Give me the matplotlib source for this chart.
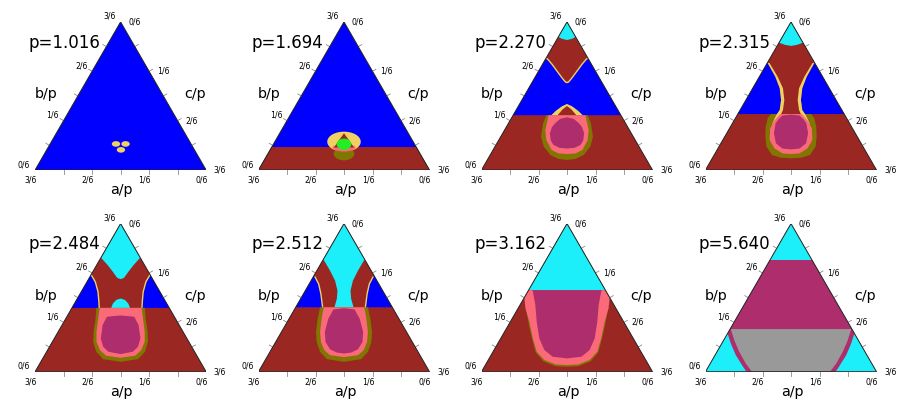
import numpy as np
import matplotlib
matplotlib.use("Agg")
import matplotlib.pyplot as plt
from matplotlib.patches import Polygon, Ellipse

H = np.sqrt(3) / 2

# ---------------- data ----------------
P_VALUES = ["1.016", "1.694", "2.270", "2.315", "2.484", "2.512", "3.162", "5.640"]
BOTTOM_TICKS = ["3/6", "2/6", "1/6", "0/6"]
LEFT_TICKS = ["0/6", "1/6", "2/6", "3/6"]
RIGHT_TICKS = ["0/6", "1/6", "2/6", "3/6"]
AXIS_TITLES = ["a/p", "b/p", "c/p"]

BLUE = "#0000FF"
BROWN = "#9B2722"
CYAN = "#1CEFFA"
MAGENTA = "#AE2D6C"
PINK = "#FA6A78"
OLIVE = "#807600"
YELLOW = "#F0D060"
GREEN = "#22EE22"
GRAY = "#999999"

# boundary profiles: (half-width from centre, height fraction)
P1_DOT_U = [0.473, 0.529, 0.502]
P1_DOT_V = [0.176, 0.176, 0.136]

P2_LINE = 0.152
P2_YELLOW = (0.191, 0.196, 0.136)
P2_OLIVE = (0.110, 0.120, 0.090)
P2_PINK = (0.150, 0.136, 0.050)
P2_NOTCH = [(0, 0.248), (0.03, 0.20), (0.058, 0.152), (0, 0.152)]
P2_GREEN = (0.174, 0.086, 0.076)

P3_LINE = 0.37
P3_VCURVE = [(0, 0.59), (0.0097, 0.595), (0.029, 0.622), (0.058, 0.667), (0.087, 0.713), (0.112, 0.747), (0.14, 0.772)]
P3_CYAN = [(0, 0.878), (0.03, 0.886), (0.06, 0.905), (0.15, 0.95), (0.15, 1.1), (0, 1.1)]
P3_BUMP_Y = [(0, 0.446), (0.03, 0.43), (0.065, 0.40), (0.092, 0.37), (0.092, 0.33), (0, 0.33)]
P3_BUMP_B = [(0, 0.432), (0.025, 0.41), (0.055, 0.37), (0.055, 0.33), (0, 0.33)]
P3_OLIVE = [(0, 0.37), (0.121, 0.37), (0.14, 0.315), (0.152, 0.225), (0.136, 0.158), (0.097, 0.101), (0.05, 0.075), (0, 0.068)]
P3_PINK = [(0, 0.37), (0.107, 0.37), (0.127, 0.27), (0.121, 0.203), (0.09, 0.135), (0.05, 0.112), (0, 0.108)]
P3_MAG = [(0, 0.356), (0.04, 0.345), (0.07, 0.315), (0.088, 0.29), (0.1, 0.248), (0.095, 0.2), (0.08, 0.17), (0.045, 0.15), (0, 0.145)]

P4_LINE = 0.378
P4_CURVE = [(0.082, 0.378), (0.066, 0.405), (0.058, 0.473), (0.066, 0.552), (0.092, 0.63), (0.136, 0.721)]
P4_YEL_OUT = [(0.11, 0.31), (0.095, 0.35), (0.082, 0.378), (0.066, 0.405), (0.058, 0.473), (0.066, 0.552), (0.092, 0.63), (0.136, 0.721), (0.15, 0.73)]
P4_YEL_IN = [(0.125, 0.721), (0.078, 0.63), (0.047, 0.552), (0.039, 0.473), (0.047, 0.405), (0.058, 0.378), (0.075, 0.35), (0.1, 0.31)]
P4_CYAN = [(0, 0.838), (0.035, 0.845), (0.07, 0.86), (0.15, 0.93), (0.15, 1.1), (0, 1.1)]
P4_OLIVE = [(0, 0.378), (0.117, 0.378), (0.136, 0.351), (0.148, 0.29), (0.15, 0.225), (0.144, 0.158), (0.111, 0.101), (0.06, 0.083), (0, 0.079)]
P4_PINK = [(0, 0.378), (0.064, 0.378), (0.1, 0.33), (0.122, 0.28), (0.125, 0.203), (0.097, 0.146), (0.05, 0.112), (0, 0.108)]
P4_MAG = [(0, 0.374), (0.05, 0.368), (0.075, 0.34), (0.09, 0.315), (0.1, 0.248), (0.088, 0.18), (0.05, 0.145), (0, 0.139)]

P5_LINE = 0.431
P5_CURVE = [(0.125, 0.431), (0.127, 0.472), (0.132, 0.539), (0.148, 0.607), (0.173, 0.656)]
P5_CYAN = [(0, 0.625), (0.02, 0.634), (0.045, 0.674), (0.075, 0.719), (0.11, 0.764), (0.2, 0.85), (0.2, 1.1), (0, 1.1)]
P5_BUMP = [(0, 0.494), (0.025, 0.485), (0.045, 0.46), (0.055, 0.431), (0.055, 0.40), (0, 0.40)]
P5_OLIVE = [(0, 0.431), (0.142, 0.431), (0.146, 0.36), (0.158, 0.27), (0.16, 0.202), (0.143, 0.135), (0.102, 0.085), (0, 0.067)]
P5_PINK = [(0, 0.431), (0.123, 0.431), (0.131, 0.36), (0.141, 0.27), (0.141, 0.202), (0.121, 0.146), (0.085, 0.108), (0, 0.094)]
P5_MAG = [(0, 0.38), (0.08, 0.371), (0.105, 0.315), (0.116, 0.225), (0.102, 0.169), (0.072, 0.135), (0, 0.119)]

P6_LINE = 0.435
P6_CURVE = [(0.125, 0.435), (0.129, 0.469), (0.135, 0.525), (0.148, 0.592), (0.171, 0.643)]
P6_CYAN = [(0, 0.435), (0.056, 0.435), (0.042, 0.491), (0.038, 0.547), (0.052, 0.614), (0.081, 0.681), (0.115, 0.748), (0.25, 0.9), (0.25, 1.1), (0, 1.1)]
P6_OLIVE = [(0, 0.435), (0.14, 0.435), (0.154, 0.357), (0.164, 0.268), (0.16, 0.201), (0.14, 0.134), (0.10, 0.085), (0, 0.067)]
P6_PINK = [(0, 0.435), (0.119, 0.435), (0.131, 0.357), (0.14, 0.268), (0.135, 0.201), (0.115, 0.145), (0.082, 0.112), (0, 0.098)]
P6_MAG = [(0, 0.429), (0.062, 0.42), (0.092, 0.357), (0.112, 0.268), (0.108, 0.201), (0.082, 0.152), (0.042, 0.129), (0, 0.123)]

P7_LINE = 0.551
P7_OLIVE = [(0, 0.5), (0.236, 0.40), (0.222, 0.31), (0.205, 0.225), (0.183, 0.13), (0.138, 0.07), (0.068, 0.038), (0, 0.033)]
P7_PINK = [(0, 0.551), (0.26, 0.551), (0.249, 0.494), (0.243, 0.427), (0.22, 0.337), (0.2, 0.225), (0.177, 0.135), (0.132, 0.079), (0.065, 0.049), (0, 0.045)]
P7_MAG = [(0, 0.551), (0.205, 0.551), (0.2, 0.544), (0.185, 0.449), (0.177, 0.337), (0.162, 0.225), (0.132, 0.146), (0.084, 0.101), (0, 0.09)]

P8_BAND = (0.288, 0.753)
P8_MAG_U = [(0, 0.3), (0.4, 0.3), (0.371, 0.258), (0.352, 0.191), (0.323, 0.112), (0.284, 0.04), (0.255, -0.01), (0, -0.01)]
P8_GRAY = [(0, 0.288), (0.352, 0.288), (0.332, 0.213), (0.303, 0.135), (0.265, 0.056), (0.222, -0.01), (0, -0.01)]


# ---------------- helpers ----------------
def sym(profile):
    right = [(0.5 + w, v) for w, v in profile]
    left = [(0.5 - w, v) for w, v in reversed(profile)]
    return right + left


def side(profile, s):
    return [(0.5 + s * w, v) for w, v in profile]


def band(v0, v1):
    return [(-0.2, v0), (1.2, v0), (1.2, v1), (-0.2, v1)]


def open_sym(profile):
    left = [(0.5 - w, v) for w, v in reversed(profile)]
    right = [(0.5 + w, v) for w, v in profile]
    return left + right


def blue_side(curve, line):
    return curve + [(0.45, 0.95), (0.7, line)]


PANELS = [
    (BLUE, [("ell", YELLOW, (u, v, 0.049, 0.038)) for u, v in zip(P1_DOT_U, P1_DOT_V)], []),
    (BLUE, [("poly", BROWN, band(-0.1, P2_LINE)),
            ("ell", YELLOW, (0.5,) + P2_YELLOW),
            ("ell", OLIVE, (0.5,) + P2_OLIVE),
            ("ell", PINK, (0.5,) + P2_PINK),
            ("poly", BROWN, sym(P2_NOTCH)),
            ("ell", GREEN, (0.5,) + P2_GREEN)], []),
    (BROWN, [("poly", BLUE, sym(P3_VCURVE + [(0.2, 0.82), (0.6, 0.82), (0.6, P3_LINE), (0, P3_LINE)])),
             ("poly", CYAN, sym(P3_CYAN)),
             ("poly", YELLOW, sym(P3_BUMP_Y)),
             ("poly", BROWN, sym(P3_BUMP_B)),
             ("poly", OLIVE, sym(P3_OLIVE)),
             ("poly", PINK, sym(P3_PINK)),
             ("poly", MAGENTA, sym(P3_MAG))],
     [open_sym(P3_VCURVE)]),
    (BROWN, [("poly", BLUE, side(blue_side(P4_CURVE, P4_LINE), 1)),
             ("poly", BLUE, side(blue_side(P4_CURVE, P4_LINE), -1)),
             ("poly", CYAN, sym(P4_CYAN)),
             ("poly", OLIVE, sym(P4_OLIVE)),
             ("poly", YELLOW, side(P4_YEL_OUT + P4_YEL_IN, 1)),
             ("poly", YELLOW, side(P4_YEL_OUT + P4_YEL_IN, -1)),
             ("poly", PINK, sym(P4_PINK)),
             ("poly", MAGENTA, sym(P4_MAG))],
     []),
    (BROWN, [("poly", BLUE, side(blue_side(P5_CURVE, P5_LINE), 1)),
             ("poly", BLUE, side(blue_side(P5_CURVE, P5_LINE), -1)),
             ("poly", CYAN, sym(P5_CYAN)),
             ("poly", CYAN, sym(P5_BUMP)),
             ("poly", OLIVE, sym(P5_OLIVE)),
             ("poly", PINK, sym(P5_PINK)),
             ("poly", MAGENTA, sym(P5_MAG))],
     [side(P5_CURVE, 1), side(P5_CURVE, -1)]),
    (BROWN, [("poly", BLUE, side(blue_side(P6_CURVE, P6_LINE), 1)),
             ("poly", BLUE, side(blue_side(P6_CURVE, P6_LINE), -1)),
             ("poly", CYAN, sym(P6_CYAN)),
             ("poly", OLIVE, sym(P6_OLIVE)),
             ("poly", PINK, sym(P6_PINK)),
             ("poly", MAGENTA, sym(P6_MAG))],
     [side(P6_CURVE, 1), side(P6_CURVE, -1)]),
    (BROWN, [("poly", CYAN, band(P7_LINE, 1.1)),
             ("poly", OLIVE, sym(P7_OLIVE)),
             ("poly", PINK, sym(P7_PINK)),
             ("poly", MAGENTA, sym(P7_MAG))], []),
    (CYAN, [("poly", MAGENTA, band(*P8_BAND)),
            ("poly", MAGENTA, sym(P8_MAG_U)),
            ("poly", GRAY, sym(P8_GRAY))], []),
]

# ---------------- figure ----------------
FIG_W, FIG_H = 915, 409
TRI_W = 171.0
TRI_H = TRI_W * H
CENTERS = [120.6, 344.0, 567.0, 791.0]
BASES = [170.0, 371.7]

fig = plt.figure(figsize=(FIG_W / 100, FIG_H / 100), dpi=100)
fig.patch.set_facecolor("white")


def to_xy(pts):
    return [(u, v * H) for u, v in pts]


for idx, (base_col, layers, ylines) in enumerate(PANELS):
    row, col = divmod(idx, 4)
    cx = CENTERS[col]
    by = BASES[row]
    ax = fig.add_axes([(cx - TRI_W / 2) / FIG_W, (FIG_H - by) / FIG_H, TRI_W / FIG_W, TRI_H / FIG_H])
    ax.set_xlim(0, 1)
    ax.set_ylim(0, H)
    ax.axis("off")

    tri = Polygon([(0, 0), (1, 0), (0.5, H)], closed=True, facecolor=base_col, edgecolor="none", zorder=1)
    ax.add_patch(tri)
    for kind, color, geo in layers:
        if kind == "poly":
            patch = Polygon(to_xy(geo), closed=True, facecolor=color, edgecolor="none", zorder=2)
        else:
            u, v, w, h = geo
            patch = Ellipse((u, v * H), w, h * H, facecolor=color, edgecolor="none", zorder=2)
        ax.add_patch(patch)
        patch.set_clip_path(tri)
    for path in ylines:
        xs = [u for u, v in path]
        ys = [v * H for u, v in path]
        ln, = ax.plot(xs, ys, color=YELLOW, lw=1.0, zorder=3, solid_capstyle="butt")
        ln.set_clip_path(tri)

    outline = Polygon([(0, 0), (1, 0), (0.5, H)], closed=True, facecolor="none", edgecolor="#222222", lw=0.7, zorder=4)
    ax.add_patch(outline)

    # ticks
    tl = 4.0 / TRI_W
    for k in range(1, 6):
        f = k / 6
        ax.plot([f, f], [0, -tl], color="#8a8a8a", lw=0.6, clip_on=False)
        lx, ly = f * 0.5, f * H
        ax.plot([lx, lx - tl * H], [ly, ly + tl * 0.5], color="#8a8a8a", lw=0.6, clip_on=False)
        rx, ry = 1 - f * 0.5, f * H
        ax.plot([rx, rx + tl * H], [ry, ry + tl * 0.5], color="#8a8a8a", lw=0.6, clip_on=False)

    tick_fs = 5.6
    for i, lab in enumerate(BOTTOM_TICKS):
        ax.annotate(lab, xy=(i / 3, 0), xytext=(-4.5, -10), textcoords="offset pixels",
                    ha="center", va="center", fontsize=tick_fs, annotation_clip=False)
    for i, lab in enumerate(LEFT_TICKS):
        v = i / 3
        ax.annotate(lab, xy=(v * 0.5, v * H), xytext=(-11, 5.5), textcoords="offset pixels",
                    ha="center", va="center", fontsize=tick_fs, annotation_clip=False)
    for i, lab in enumerate(RIGHT_TICKS):
        v = 1 - i / 3
        ax.annotate(lab, xy=(1 - v * 0.5, v * H), xytext=(14, 0), textcoords="offset pixels",
                    ha="center", va="center", fontsize=tick_fs, annotation_clip=False)

    ax.annotate(AXIS_TITLES[0], xy=(0.5, 0), xytext=(1, -20), textcoords="offset pixels",
                ha="center", va="center", fontsize=10.3, annotation_clip=False)
    ax.annotate(AXIS_TITLES[1], xy=(0.5, H), xytext=(-74.5, -72.5), textcoords="offset pixels",
                ha="center", va="center", fontsize=10.3, annotation_clip=False)
    ax.annotate(AXIS_TITLES[2], xy=(0.5, H), xytext=(74.5, -72.5), textcoords="offset pixels",
                ha="center", va="center", fontsize=10.3, annotation_clip=False)
    ax.annotate("p=" + P_VALUES[idx], xy=(0.5, H), xytext=(-92.4, -20.7), textcoords="offset pixels",
                ha="left", va="center", fontsize=12, annotation_clip=False)

fig.savefig("out.png", dpi=100, facecolor="white")
